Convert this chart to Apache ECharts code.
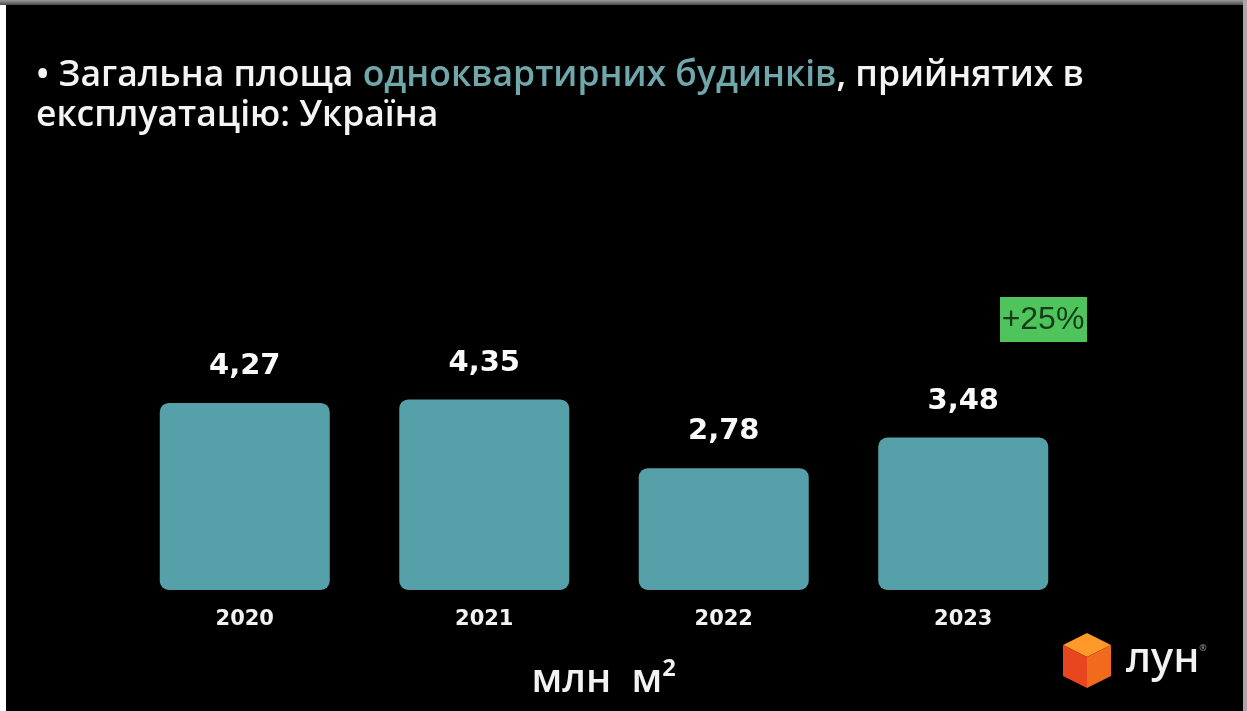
<!DOCTYPE html>
<html>
<head>
<meta charset="utf-8">
<script src="https://cdn.jsdelivr.net/npm/echarts@6/dist/echarts.min.js"></script>
<style>
  html, body { margin: 0; padding: 0; background: #000; }
  #chart { position: absolute; left: 0; top: 0; width: 1247px; height: 711px; }
  .b { position: absolute; }
</style>
</head>
<body>
<div id="chart"></div>
<div class="b" style="left:0;top:0;width:6px;height:711px;background:#fff"></div>
<div class="b" style="left:0;top:0;width:1247px;height:5px;background:linear-gradient(#9a9a9a,#4a4a4a)"></div>
<div class="b" style="right:0;top:0;width:4px;height:711px;background:#a8a8a8"></div>
<script>
const categories = ['2020', '2021', '2022', '2023'];
const values = [4.27, 4.35, 2.78, 3.48];
const unitLabel = 'млн  м²';
const changeLabel = '+25%';
const titleLine1a = '• Загальна площа ';
const titleLine1b = 'одноквартирних будинків';
const titleLine1c = ', прийнятих в';
const titleLine2 = 'експлуатацію: Україна';

const chart = echarts.init(document.getElementById('chart'));
const option = {
  backgroundColor: '#000',
  animation: false,
  title: {
    left: 31,
    top: 51,
    text: '{w|' + titleLine1a + '}{t|' + titleLine1b + '}{w|' + titleLine1c + '}\n{w|' + titleLine2 + '}',
    textStyle: {
      rich: {
        w: { color: '#f4f4f4', fontSize: 35.5, fontWeight: 600, fontFamily: 'Open Sans', lineHeight: 40 },
        t: { color: '#6fa7ab', fontSize: 35.5, fontWeight: 600, fontFamily: 'Open Sans', lineHeight: 40 }
      }
    }
  },
  grid: { left: 125, right: 164, top: 371, bottom: 121 },
  xAxis: {
    type: 'category',
    data: categories,
    axisLine: { show: false },
    axisTick: { show: false },
    axisLabel: { color: '#f2f2f2', fontSize: 21, fontWeight: 'bold', fontFamily: 'DejaVu Sans', margin: 19 }
  },
  yAxis: { type: 'value', min: 0, max: 5, show: false, splitLine: { show: false } },
  series: [{
    type: 'bar',
    data: values,
    barWidth: 170,
    itemStyle: { color: '#56a1a9', borderRadius: 9 },
    label: {
      show: true,
      position: 'top',
      distance: 22,
      color: '#fafafa',
      fontSize: 29,
      fontWeight: 'bold',
      fontFamily: 'DejaVu Sans',
      formatter: p => p.value.toFixed(2).replace('.', ',')
    }
  }],
  graphic: [
    { type: 'rect', shape: { x: 1000, y: 297, width: 87, height: 45 }, style: { fill: '#4fc45c' } },
    { type: 'text', x: 1043, y: 320, style: { text: changeLabel, fill: '#123d17', font: '32px "Liberation Sans"', align: 'center', verticalAlign: 'middle' } },
    { type: 'text', x: 604, y: 681, style: { text: unitLabel, fill: '#f2f2f2', font: '600 39px "Open Sans"', align: 'center', verticalAlign: 'middle' } },
    { type: 'polygon', shape: { points: [[1087, 633], [1111, 645], [1087, 657], [1063, 645]] }, style: { fill: '#ff9a2a' } },
    { type: 'polygon', shape: { points: [[1063, 645], [1087, 657], [1087, 688], [1063, 676]] }, style: { fill: '#e8461e' } },
    { type: 'polygon', shape: { points: [[1087, 657], [1111, 645], [1111, 676], [1087, 688]] }, style: { fill: '#f26b1c' } },
    { type: 'text', x: 1126, y: 660, style: { text: 'лун', fill: '#f2f2f2', font: '500 42px "Noto Sans"', align: 'left', verticalAlign: 'middle' } },
    { type: 'text', x: 1203, y: 648, style: { text: '®', fill: '#999', font: '9px "Noto Sans"', align: 'center', verticalAlign: 'middle' } }
  ]
};
chart.setOption(option);
</script>
</body>
</html>
